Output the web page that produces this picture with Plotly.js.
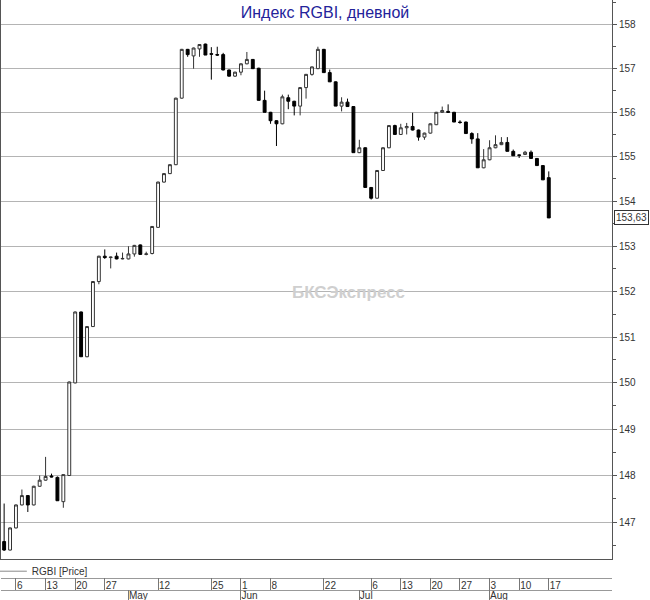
<!DOCTYPE html>
<html>
<head>
<meta charset="utf-8">
<script src="https://cdn.plot.ly/plotly-3.0.1.min.js"></script>
<style>html,body{margin:0;padding:0;background:#fff;}#chart{width:650px;height:600px;}</style>
</head>
<body>
<div id="chart"></div>
<script>
// Trading days (2020)
const dates = [
 "2020-04-02","2020-04-03","2020-04-06","2020-04-07","2020-04-08","2020-04-09","2020-04-10",
 "2020-04-13","2020-04-14","2020-04-15","2020-04-16","2020-04-17","2020-04-20","2020-04-21",
 "2020-04-22","2020-04-23","2020-04-24","2020-04-27","2020-04-28","2020-04-29","2020-04-30",
 "2020-05-04","2020-05-05","2020-05-06","2020-05-07","2020-05-08","2020-05-12","2020-05-13",
 "2020-05-14","2020-05-15","2020-05-18","2020-05-19","2020-05-20","2020-05-21","2020-05-22",
 "2020-05-25","2020-05-26","2020-05-27","2020-05-28","2020-05-29",
 "2020-06-01","2020-06-02","2020-06-03","2020-06-04","2020-06-05","2020-06-08","2020-06-09",
 "2020-06-10","2020-06-11","2020-06-15","2020-06-16","2020-06-17","2020-06-18","2020-06-19",
 "2020-06-22","2020-06-23","2020-06-25","2020-06-26","2020-06-29","2020-06-30",
 "2020-07-02","2020-07-03","2020-07-06","2020-07-07","2020-07-08","2020-07-09","2020-07-10",
 "2020-07-13","2020-07-14","2020-07-15","2020-07-16","2020-07-17","2020-07-20","2020-07-21",
 "2020-07-22","2020-07-23","2020-07-24","2020-07-27","2020-07-28","2020-07-29","2020-07-30","2020-07-31",
 "2020-08-03","2020-08-04","2020-08-05","2020-08-06","2020-08-07","2020-08-10","2020-08-11",
 "2020-08-12","2020-08-13","2020-08-14","2020-08-17"
];
const openVals = [
 146.59,146.41,146.88,147.37,147.57,147.37,147.77,147.90,147.99,147.96,147.44,148.00,150.00,151.55,
 150.57,151.23,152.22,152.78,152.75,152.78,152.72,152.72,152.83,153.03,152.82,152.84,153.42,154.43,
 154.62,154.82,156.32,157.43,157.28,157.44,157.55,157.33,157.31,157.31,156.96,156.82,
 156.91,157.10,157.20,157.00,156.27,156.00,155.81,155.74,156.33,156.25,156.14,156.56,156.86,156.99,
 157.43,156.90,156.69,156.14,156.23,156.13,
 155.09,155.20,154.31,154.07,154.69,155.20,155.70,155.50,155.65,155.68,155.60,155.44,155.53,155.72,
 156.00,156.02,156.00,155.78,155.78,155.52,155.40,154.75,
 154.93,155.20,155.27,155.32,155.12,155.04,155.05,155.10,154.96,154.80,154.53
];
const highVals = [
 147.40,146.89,147.38,147.70,147.58,147.78,148.00,148.40,148.04,147.98,148.02,150.03,151.56,151.56,
 151.24,152.23,152.79,152.93,152.77,152.86,152.86,153.00,153.03,153.04,152.88,153.45,154.44,154.63,
 154.83,156.33,157.44,157.44,157.47,157.55,157.56,157.48,157.49,157.35,156.97,156.92,
 157.11,157.37,157.21,157.01,156.49,156.01,155.82,156.40,156.40,156.26,156.57,156.87,157.04,157.49,
 157.44,156.97,156.70,156.34,156.31,156.14,
 155.38,155.21,154.32,154.70,155.21,155.71,155.72,155.74,155.76,155.99,155.61,155.54,155.75,156.01,
 156.13,156.18,156.01,155.82,155.79,155.55,155.53,155.17,
 155.37,155.48,155.44,155.44,155.16,155.05,155.13,155.14,154.97,154.81,154.67
];
const lowVals = [
 146.39,146.40,146.87,147.36,147.22,147.36,147.76,147.89,147.96,147.46,147.31,147.99,149.99,150.57,
 150.56,151.22,152.16,152.72,152.51,152.71,152.71,152.71,152.77,152.81,152.80,152.82,153.41,154.42,
 154.61,154.81,156.31,157.26,156.99,157.26,157.30,156.74,157.28,156.95,156.81,156.80,
 156.84,157.09,156.99,156.27,156.00,155.74,155.24,155.73,156.07,155.93,155.93,156.31,156.83,156.98,
 156.90,156.69,156.14,156.02,156.12,155.09,
 155.08,154.31,154.04,154.06,154.68,155.19,155.50,155.49,155.50,155.59,155.36,155.38,155.52,155.71,
 155.99,155.99,155.78,155.74,155.52,155.29,154.75,154.74,
 154.92,155.19,155.26,155.12,155.02,154.97,155.04,154.96,154.80,154.48,153.63
];
const closeVals = [
 146.41,146.88,147.37,147.57,147.37,147.77,147.90,147.98,147.97,147.46,148.02,150.02,151.55,150.57,
 151.23,152.22,152.78,152.75,152.76,152.72,152.73,152.83,153.02,152.82,152.83,153.44,154.43,154.62,
 154.82,156.32,157.43,157.31,157.46,157.54,157.30,157.32,157.30,156.96,156.82,156.91,
 157.10,157.20,156.99,156.27,156.00,155.81,155.74,156.35,156.25,156.14,156.56,156.86,157.03,157.43,
 156.90,156.69,156.14,156.23,156.13,155.09,
 155.20,154.31,154.07,154.69,155.20,155.70,155.50,155.65,155.68,155.60,155.44,155.53,155.74,156.00,
 156.04,156.00,155.78,155.77,155.52,155.40,154.75,154.93,
 155.20,155.27,155.32,155.12,155.02,155.03,155.10,154.96,154.80,154.48,153.63
];

// Axis labels
const dayTickDates = ["2020-04-06","2020-04-13","2020-04-20","2020-04-27","2020-05-12","2020-05-25",
 "2020-06-01","2020-06-08","2020-06-22","2020-07-06","2020-07-13","2020-07-20","2020-07-27",
 "2020-08-03","2020-08-10","2020-08-17"];
const monthKeys = ["2020-05","2020-06","2020-07","2020-08"];
const monthLabels = ["May","Jun","Jul","Aug"];
const priceTicks = [147,148,149,150,151,152,153,154,155,156,157,158];
const priceMinorTicks = [146.5,147.5,148.5,149.5,150.5,151.5,152.5,153.5,154.5,155.5,156.5,157.5,158.5];
const seriesName = "RGBI [Price]";
const titleText = "Индекс RGBI, дневной";
const watermarkText = "БКСЭкспресс";

const xIdx = dates.map((d, i) => i);
const dayTickVals = dayTickDates.map(d => dates.indexOf(d));
const dayTickText = dayTickDates.map(d => String(parseInt(d.slice(8), 10)));
const monthTickVals = monthKeys.map(k => dates.findIndex(d => d.startsWith(k)));
const xRange = [-0.53, 102.68];
const FONT = "Arial, 'Liberation Sans', sans-serif";

const traces = [
  {
    type: 'candlestick', x: xIdx, open: openVals, high: highVals, low: lowVals, close: closeVals,
    increasing: {line: {color: '#333333', width: 1}, fillcolor: '#ffffff'},
    decreasing: {line: {color: '#000000', width: 1}, fillcolor: '#000000'},
    whiskerwidth: 0, showlegend: false, hoverinfo: 'skip', name: seriesName
  },
  {
    type: 'scatter', x: [null], y: [null], mode: 'lines', name: seriesName,
    line: {color: '#888888', width: 1}, showlegend: true, hoverinfo: 'skip'
  },
  // carriers so the date-band axes are drawn (no data)
  {type: 'scatter', x: [null], y: [null], xaxis: 'x2', yaxis: 'y', showlegend: false, hoverinfo: 'skip'},
  {type: 'scatter', x: [null], y: [null], xaxis: 'x3', yaxis: 'y', showlegend: false, hoverinfo: 'skip'},
  {type: 'scatter', x: [null], y: [null], xaxis: 'x4', yaxis: 'y', showlegend: false, hoverinfo: 'skip'}
];

const lastClose = closeVals[closeVals.length - 1];

const layout = {
  width: 650, height: 600,
  margin: {l: 1, r: 38, t: 0, b: 0, autoexpand: false},
  paper_bgcolor: '#ffffff', plot_bgcolor: '#ffffff',
  font: {family: FONT, size: 10, color: '#333333'},
  title: {text: titleText, x: 0.5, xref: 'container', xanchor: 'center', y: 0.98, yref: 'container', yanchor: 'middle',
          font: {family: FONT, size: 16, color: '#23239a'}},
  showlegend: true,
  legend: {orientation: 'h', x: -0.015, xanchor: 'left', y: 0.048, yanchor: 'middle',
           font: {family: FONT, size: 10, color: '#333333'}, bgcolor: 'rgba(0,0,0,0)'},
  xaxis: {range: xRange, showgrid: false, zeroline: false, showline: true, linecolor: '#555555', linewidth: 1,
          ticks: '', showticklabels: false, rangeslider: {visible: false}, fixedrange: true},
  xaxis2: {overlaying: 'x', anchor: 'free', position: 10/600, range: xRange, tickmode: 'array',
           tickvals: dayTickVals, ticktext: dayTickText, ticks: 'inside', ticklen: 12, tickcolor: '#777777',
           showline: true, linecolor: '#999999', ticklabelposition: 'inside right', ticklabelstandoff: -5,
           showgrid: false, zeroline: false,
           tickfont: {family: FONT, size: 10, color: '#333333'}, fixedrange: true},
  xaxis3: {overlaying: 'x', anchor: 'free', position: 0, range: xRange, tickmode: 'array',
           tickvals: monthTickVals, ticktext: monthLabels, ticks: 'inside', ticklen: 10, tickcolor: '#777777',
           showline: false, ticklabelposition: 'inside right', ticklabelstandoff: -7,
           showgrid: false, zeroline: false,
           tickfont: {family: FONT, size: 10, color: '#333333'}, fixedrange: true},
  xaxis4: {overlaying: 'x', anchor: 'free', position: 22/600, range: xRange, ticks: '', showticklabels: false,
           showline: true, linecolor: '#999999', showgrid: false, zeroline: false, fixedrange: true},
  yaxis: {domain: [41/600, 1], type: 'log', side: 'right', range: [Math.log10(146.22), Math.log10(158.56)],
          tickmode: 'array', tickvals: priceTicks, ticktext: priceTicks.map(String),
          ticks: 'outside', ticklen: 4, tickcolor: '#555555', showline: true, linecolor: '#555555', mirror: true,
          showgrid: true, gridcolor: '#b4b4b4', gridwidth: 1, zeroline: false,
          tickfont: {family: FONT, size: 10, color: '#333333'},
          minor: {tickmode: 'array', tickvals: priceMinorTicks, ticks: 'outside', ticklen: 3, tickcolor: '#555555', showgrid: false},
          fixedrange: true},
  annotations: [
    {xref: 'paper', x: 1, xanchor: 'left', xshift: 2, yref: 'y', y: Math.log10(lastClose), yanchor: 'middle',
     text: lastClose.toFixed(2).replace('.', ','), showarrow: false, bordercolor: '#333333', borderwidth: 1,
     borderpad: 1, bgcolor: '#ffffff', font: {family: FONT, size: 10, color: '#333333'}},
    {xref: 'paper', x: 0.568, xanchor: 'center', yref: 'paper', y: 0.513, yanchor: 'middle',
     text: '<b>' + watermarkText + '</b>', showarrow: false, font: {family: FONT, size: 17, color: '#cfcfcf'}}
  ]
};

Plotly.newPlot('chart', traces, layout, {displayModeBar: false, staticPlot: true});
</script>
</body>
</html>
